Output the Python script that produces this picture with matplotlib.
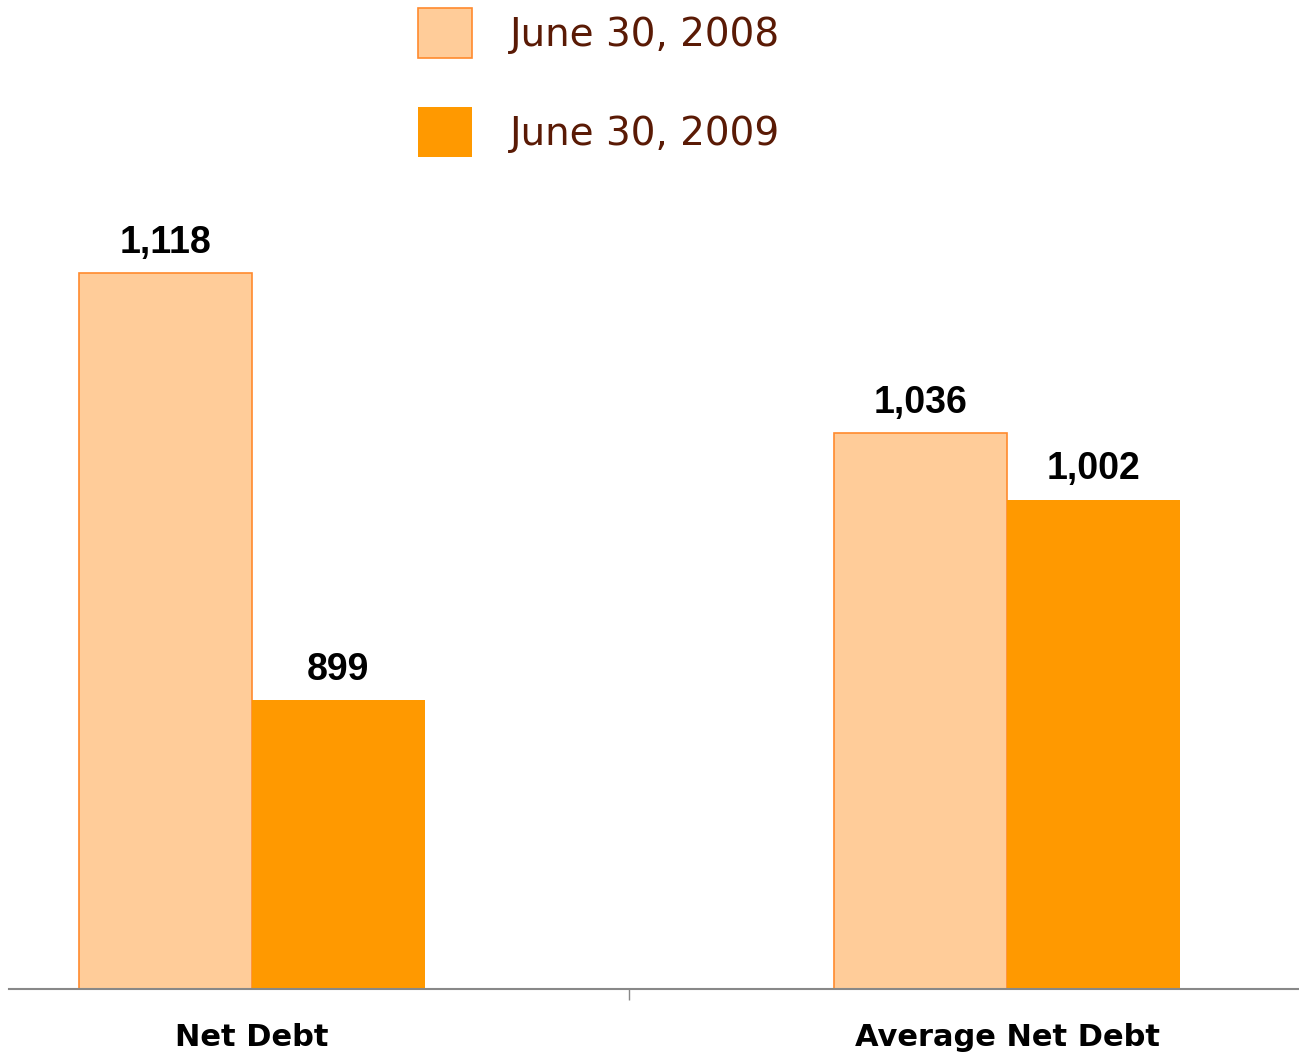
import matplotlib
matplotlib.use("Agg")
import matplotlib.pyplot as plt
import numpy as np

categories = ["Net Debt", "Average Net Debt"]
series_labels = ["June 30, 2008", "June 30, 2009"]
values_2008 = [1118, 1036]
values_2009 = [899, 1002]

light = "#ffcc99"
dark = "#ff9900"
edge = "#ff8a2e"
brown = "#5a1a05"

fig = plt.figure(figsize=(12.99, 10.53), dpi=100)
# axes: left 9px, right 1298px, bottom at 989px, top at 200px
ax = fig.add_axes([9 / 1299, 1 - 989 / 1053, 1289 / 1299, 789 / 1053])

x = np.arange(len(categories))
w = 0.229
b1 = ax.bar(x - w / 2, values_2008, w, color=light, edgecolor=edge, linewidth=1.2,
            label=series_labels[0])
b2 = ax.bar(x + w / 2, values_2009, w, color=dark, edgecolor=dark, linewidth=0,
            label=series_labels[1])

ymin = 751
ax.set_ylim(ymin, ymin + 789 / 1.95)
ax.set_xlim(-0.321, 1.385)

for bars, vals in ((b1, values_2008), (b2, values_2009)):
    for rect, v in zip(bars, vals):
        ax.annotate(f"{v:,}", (rect.get_x() + rect.get_width() / 2, rect.get_height()),
                    xytext=(0, 9), textcoords="offset points", ha="center", va="bottom",
                    fontsize=27, fontweight="bold", fontstretch="normal",
                    family="Liberation Sans", color="black")

for s in ("top", "right", "left"):
    ax.spines[s].set_visible(False)
ax.spines["bottom"].set_color("#888888")
ax.spines["bottom"].set_linewidth(1.5)
ax.set_yticks([])
ax.set_xticks([0.5])
ax.set_xticklabels([""])
ax.tick_params(axis="x", length=8, width=1, color="#888888")

for xi, name in zip(x, categories):
    ax.text(xi, -0.062, name, transform=ax.get_xaxis_transform(), ha="center", va="center",
            fontsize=22, fontweight="bold", family="DejaVu Sans", color="black")

leg = fig.legend(handles=[b1, b2], labels=series_labels, loc="upper left",
                 bbox_to_anchor=(418 / 1299, 1 - 8 / 1053), frameon=False,
                 fontsize=28, handlelength=1.39, handleheight=1.59,
                 handletextpad=0.97, labelspacing=1.28, borderpad=0, borderaxespad=0)
for t in leg.get_texts():
    t.set_color(brown)

fig.savefig("out.png", dpi=100)
